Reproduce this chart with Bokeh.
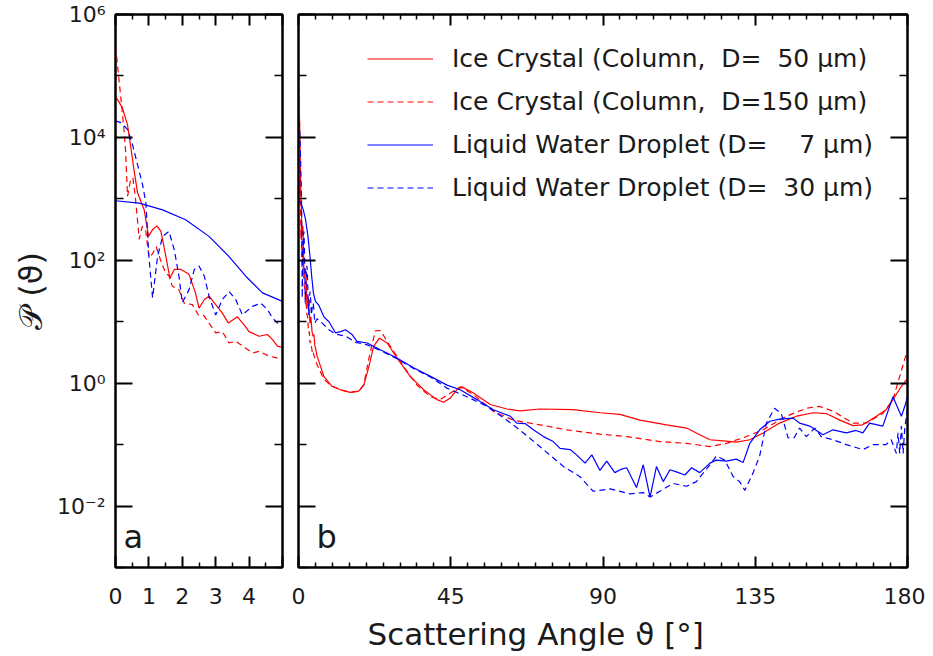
from bokeh.plotting import figure
from bokeh.models import (Range1d, FixedTicker, LogAxis, LinearAxis, Label, Title,
                          Legend, LegendItem, ColumnDataSource, CustomJSTickFormatter)
from bokeh.layouts import row
from bokeh.embed import file_html
from bokeh.resources import INLINE

# ---------------- data ----------------
ice50_angle = [0, 0.21, 0.36, 0.46, 0.56, 0.66, 0.86, 0.99, 1.11, 1.24, 1.36, 1.51, 1.63,
               1.76, 1.96, 2.2, 2.39, 2.5, 2.66, 2.8, 3.0, 3.2, 3.38, 3.65, 3.85, 4.0, 4.3,
               4.55, 4.7, 4.85, 5.0, 5.5, 7.5, 9.9, 12.4, 15.3, 17.8, 19.3, 20.8, 22.2, 23.9,
               26.2, 29.1, 33.0, 37.0, 40.9, 42.9, 44.9, 46.8, 48.3, 51.7, 56.7, 61.6, 65.5,
               71.4, 81.2, 89.1, 95, 100.9, 108.8, 114.7, 118.6, 121.6, 125.5, 129.4, 133.4,
               137.3, 142.2, 147.2, 152.1, 156, 160, 163.9, 166.8, 170.8, 173.7, 175.7, 178.2, 180]
ice50_p = [4.7e4, 3.0e4, 1.6e4, 6.8e3, 2.8e3, 1.26e3, 660, 245, 316, 363, 295, 115, 51,
           71, 71, 59, 30, 16.6, 23, 26, 19, 13.8, 9.5, 12, 8.9, 6.9, 5.8,
           6.2, 5.1, 4.0, 3.8, 2.75, 1.29, 0.89, 0.78, 0.71, 0.74, 0.93, 1.86, 3.98, 5.4,
           4.5, 2.57, 1.29, 0.78, 0.54, 0.49, 0.575, 0.78, 0.87, 0.69, 0.45, 0.38, 0.355,
           0.38, 0.37, 0.33, 0.31, 0.25, 0.21, 0.186, 0.145, 0.12, 0.115, 0.11, 0.12,
           0.155, 0.224, 0.29, 0.33, 0.32, 0.25, 0.204, 0.21, 0.29, 0.37, 0.54, 0.89, 1.2]

ice150_angle = [0, 0.09, 0.16, 0.24, 0.30, 0.36, 0.45, 0.52, 0.60, 0.71, 0.80, 0.90, 1.00,
                1.10, 1.22, 1.35, 1.50, 1.60, 1.70, 1.90, 2.06, 2.30, 2.48, 2.65, 2.80, 3.00,
                3.20, 3.40, 3.60, 3.90, 4.10, 4.30, 4.60, 4.80, 5.0, 5.5, 7.5, 9.4, 12.4, 15.3,
                17.8, 19.3, 20.8, 22.7, 24.2, 27.1, 31.1, 35.0, 39.0, 41.9, 44.9, 47.8, 51.7,
                57.6, 63.5, 71.4, 79.3, 89.1, 97, 106.8, 114.7, 121.6, 126.5, 131.4, 137.3,
                144.2, 150.1, 154, 158, 163.9, 167.8, 172.7, 175.7, 177.7, 180]
ice150_p = [3.0e5, 1.05e5, 4.4e4, 1.6e4, 6.3e3, 1.1e3, 2.0e3, 2.2e3, 1.0e3, 220, 355, 316, 112,
            126, 166, 100, 62, 56, 38, 33, 20, 19, 12.9, 12.6, 9.5, 6.6,
            6.9, 4.5, 4.8, 3.7, 3.1, 3.3, 2.75, 2.6, 2.4, 2.0, 1.15, 0.93, 0.78, 0.71,
            0.74, 0.95, 2.5, 7.1, 7.2, 4.0, 1.86, 0.93, 0.60, 0.54, 0.69, 0.87, 0.65,
            0.35, 0.25, 0.21, 0.174, 0.148, 0.135, 0.112, 0.105, 0.093, 0.105, 0.129, 0.174,
            0.29, 0.39, 0.42, 0.35, 0.224, 0.224, 0.32, 0.54, 1.29, 3.5]

drop7_angle = [0, 0.71, 1.41, 2.1, 2.8, 3.4, 3.9, 4.4, 5.0, 6.0, 7.5, 9.0, 10.9, 12.5, 13.9,
               15.8, 17.3, 20.3, 24.2, 29.1, 34.0, 39.0, 43.9, 47.8, 52.7, 57.6, 62.6, 64.5,
               67, 69.4, 72.4, 75.3, 77.3, 80.3, 82.2, 84.7, 86.7, 89.1, 91.1, 93.5, 95.5, 97,
               99.9, 101.9, 103.9, 105.8, 107.8, 109.8, 111.7, 114.2, 116.2, 118.6, 121.6,
               123.5, 126.5, 129.4, 131.4, 133.4, 136.3, 139.3, 142.2, 146.2, 148.1, 151.1,
               155, 158, 161.9, 164.8, 166.8, 168.8, 172.7, 175.7, 178.2, 179.2, 180]
drop7_p = [930, 850, 660, 457, 245, 115, 55, 29.5, 21.4, 18.6, 12, 10, 6.6, 6.9, 7.4,
           6.2, 4.8, 4.5, 3.5, 2.57, 1.78, 1.29, 0.93, 0.78, 0.54, 0.37, 0.29, 0.224,
           0.22, 0.174, 0.135, 0.112, 0.087, 0.083, 0.068, 0.05, 0.068, 0.038, 0.054, 0.035, 0.04, 0.042,
           0.02, 0.047, 0.014, 0.044, 0.025, 0.039, 0.036, 0.032, 0.042, 0.035, 0.05,
           0.056, 0.054, 0.058, 0.051, 0.105, 0.174, 0.24, 0.26, 0.27, 0.224, 0.2,
           0.145, 0.174, 0.155, 0.17, 0.155, 0.224, 0.2, 0.6, 0.29, 0.42, 0.6]

drop30_angle = [0, 0.16, 0.36, 0.51, 0.66, 0.81, 0.91, 1.0, 1.11, 1.26, 1.41, 1.6, 1.76, 1.9,
                2.0, 2.2, 2.36, 2.5, 2.66, 2.8, 3.0, 3.2, 3.4, 3.6, 3.8, 4.1, 4.35, 4.55, 4.7,
                4.85, 5.0, 5.5, 7.0, 9.0, 11, 14, 17, 20.3, 24.2, 29.1, 34, 39, 43.9, 49.8,
                55.7, 61.6, 66.5, 72.4, 78.3, 83.2, 87.1, 92.1, 98, 101.9, 103.9, 106.8, 110.7,
                114.7, 117.6, 121.6, 123.5, 126, 128.5, 130.4, 131.9, 134.4, 136.3, 138.3,
                140.7, 142.7, 144.7, 146.5, 148.1, 150.1, 152.6, 154.5, 158, 161.9, 166.8,
                169.8, 173.7, 175.2, 176.7, 177.2, 177.7, 178.2, 178.7, 179.2, 180]
drop30_p = [1.86e4, 1.74e4, 1.35e4, 7.6e3, 3.6e3, 1.7e3, 850, 115, 24.5, 115, 245, 295, 148, 55,
            20.4, 33, 71, 81, 55, 26, 12.9, 23, 31, 23, 12.9, 17.8, 20, 15.8, 11.5,
            9.5, 10, 11.2, 9.5, 7.4, 6.3, 5.8, 4.6, 4.2, 3.4, 2.5, 1.74, 1.26, 0.83, 0.6,
            0.42, 0.25, 0.155, 0.083, 0.044, 0.03, 0.0174, 0.019, 0.0158, 0.0166, 0.014, 0.0174, 0.0234,
            0.021, 0.025, 0.047, 0.065, 0.056, 0.03, 0.025, 0.018, 0.035, 0.065, 0.224,
            0.39, 0.32, 0.129, 0.13, 0.186, 0.135, 0.186, 0.135, 0.12, 0.1, 0.083,
            0.1, 0.1, 0.12, 0.072, 0.155, 0.072, 0.2, 0.072, 0.186, 0.39]

series_labels = ["Ice Crystal (Column,\u00a0\u00a0D=\u200750\u00a0\u03bcm)",
                 "Ice Crystal (Column,\u00a0\u00a0D=150\u00a0\u03bcm)",
                 "Liquid Water Droplet (D=\u2007\u20077\u00a0\u03bcm)",
                 "Liquid Water Droplet (D=\u200730\u00a0\u03bcm)"]
series_colors = ["#ff0000", "#ff0000", "#0000ff", "#0000ff"]
series_dash = ["solid", "6 4", "solid", "6 4"]

y_major = [1e-2, 1e0, 1e2, 1e4, 1e6]
y_minor = [1e-3, 1e-1, 1e1, 1e3, 1e5]
y_labels = ["10\u207b\u00b2", "10\u2070", "10\u00b2", "10\u2074", "10\u2076"]
xa_major = [0, 1, 2, 3, 4, 5]
xa_minor = [0.5, 1.5, 2.5, 3.5, 4.5]
xa_labels = ["0", "1", "2", "3", "4", ""]
xb_major = [0, 45, 90, 135, 180]
xb_minor = [v for v in range(5, 180, 5) if v % 45 != 0]

FONT = "DejaVu Sans"
TXT = "#1a1a1a"
sources = [ColumnDataSource(dict(x=a, y=p)) for a, p in
           [(ice50_angle, ice50_p), (ice150_angle, ice150_p),
            (drop7_angle, drop7_p), (drop30_angle, drop30_p)]]


def style_axis(ax, major_in, minor_in, labels=True):
    ax.major_tick_in = major_in
    ax.major_tick_out = 0
    ax.minor_tick_in = minor_in
    ax.minor_tick_out = 0
    ax.axis_line_width = 2
    ax.axis_line_color = "black"
    ax.major_tick_line_width = 2
    ax.minor_tick_line_width = 1.5
    ax.major_tick_line_color = "black"
    ax.minor_tick_line_color = "black"
    ax.major_label_text_font = FONT
    ax.major_label_text_color = TXT
    ax.major_label_text_font_size = "22px"
    if not labels:
        ax.formatter = CustomJSTickFormatter(code="return '';")
        ax.major_label_text_font_size = "1px"
        ax.major_label_text_color = None
        ax.major_label_standoff = 0


def make_fig(xr, fw, xmaj, xmin, xlab_over, left_labels, bl, br):
    p = figure(x_range=Range1d(*xr), y_range=Range1d(1e-3, 1e6), y_axis_type="log",
               frame_width=fw, frame_height=553, output_backend="svg",
               toolbar_location=None, min_border_left=bl, min_border_right=br,
               min_border_top=14, min_border_bottom=72)
    p.xgrid.visible = False
    p.ygrid.visible = False
    p.outline_line_color = "black"
    p.outline_line_width = 2
    p.background_fill_color = "white"
    p.border_fill_color = "white"
    xt = FixedTicker(ticks=xmaj, minor_ticks=xmin)
    yt = FixedTicker(ticks=y_major, minor_ticks=y_minor)
    p.xaxis.ticker = xt
    p.yaxis.ticker = yt
    style_axis(p.xaxis[0], 11, 5)
    p.xaxis.major_label_standoff = 20
    if xlab_over:
        p.xaxis.major_label_overrides = xlab_over
    style_axis(p.yaxis[0], 17, 8, labels=left_labels)
    if left_labels:
        p.yaxis.major_label_overrides = dict(zip(y_major, y_labels))
        p.yaxis.major_label_standoff = 10
    top = LinearAxis(ticker=xt)
    style_axis(top, 11, 5, labels=False)
    p.add_layout(top, "above")
    right = LogAxis(ticker=yt)
    style_axis(right, 17, 8, labels=False)
    p.add_layout(right, "right")
    return p


pa = make_fig((0, 5), 167, xa_major, xa_minor, dict(zip(xa_major, xa_labels)), True, 115, 8)
pb = make_fig((0, 180), 609, xb_major, xb_minor, None, False, 8, 18)

pa.yaxis[0].axis_label = "\U0001D4AB (\u03d1)"
pa.yaxis[0].axis_label_text_font = FONT
pa.yaxis[0].axis_label_text_color = TXT
pa.yaxis[0].axis_label_text_font_style = "normal"
pa.yaxis[0].axis_label_text_font_size = "32px"
pa.yaxis[0].axis_label_standoff = 4

items = []
for fig in (pa, pb):
    for i, src in enumerate(sources):
        r = fig.line("x", "y", source=src, line_color=series_colors[i],
                     line_dash=series_dash[i], line_width=1.2)
        if fig is pb:
            items.append(LegendItem(label=series_labels[i], renderers=[r]))

legend = Legend(items=items, location=(69, 365), border_line_color=None,
                background_fill_alpha=0, label_text_font=FONT,
                label_text_font_size="25px", label_text_color=TXT,
                glyph_width=66, glyph_height=25, label_height=25,
                label_standoff=19, spacing=14, padding=0, margin=0)
pb.add_layout(legend)

pa.add_layout(Label(x=8, y=12, x_units="screen", y_units="screen", text="a",
                    text_font=FONT, text_font_size="32px", text_color=TXT))
pb.add_layout(Label(x=18, y=12, x_units="screen", y_units="screen", text="b",
                    text_font=FONT, text_font_size="32px", text_color=TXT))
pb.add_layout(Title(text="Scattering Angle \u03d1 [\u00b0]", align="left", offset=69,
                    standoff=14, text_font=FONT, text_font_size="31px",
                    text_font_style="normal", text_color=TXT), "below")

layout = row(pa, pb)
open("out.html", "w").write(file_html(layout, INLINE))
